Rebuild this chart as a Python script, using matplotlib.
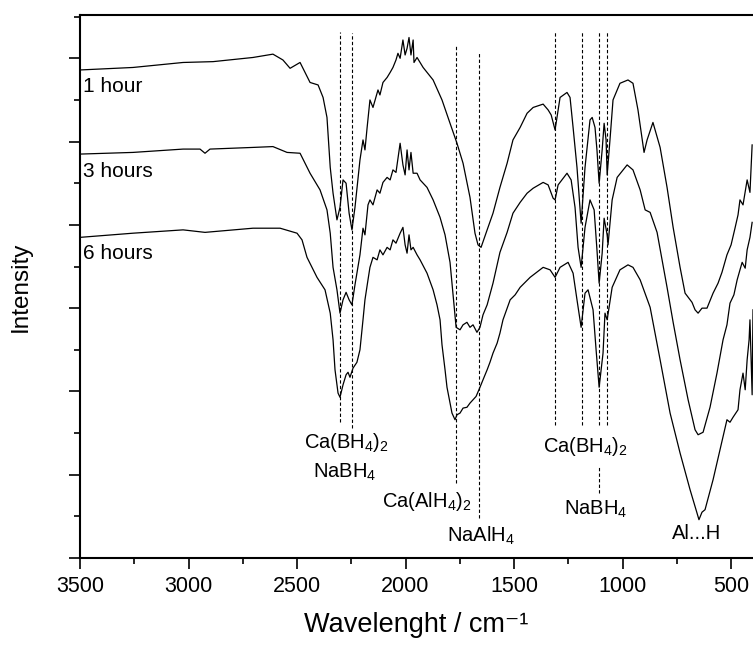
import numpy as np
import matplotlib
matplotlib.use('Agg')
import matplotlib.pyplot as plt
from matplotlib.ticker import MultipleLocator

plt.rcParams['font.family'] = ['Liberation Sans', 'DejaVu Sans']
plt.rcParams['mathtext.fontset'] = 'custom'
plt.rcParams['mathtext.rm'] = 'Liberation Sans'

# FTIR spektra (bølgetall, intensitet med offset) lest av figuren
spectrum_1h = np.array([
    [3500, 5.86], [3256, 5.89], [3025, 5.95], [2887, 5.96], [2703, 6.01], [2611, 6.05],
    [2565, 5.98], [2532, 5.88], [2486, 5.95], [2440, 5.71], [2403, 5.68], [2380, 5.53],
    [2362, 5.29], [2347, 4.69], [2334, 4.38], [2316, 4.06], [2302, 4.21], [2288, 4.54],
    [2274, 4.50], [2260, 4.14], [2247, 3.94], [2233, 4.21], [2210, 4.78], [2196, 5.02],
    [2187, 4.90], [2177, 5.17], [2164, 5.50], [2150, 5.41], [2127, 5.62], [2118, 5.56],
    [2104, 5.71], [2085, 5.77], [2071, 5.83], [2058, 5.89], [2044, 5.98], [2035, 6.06],
    [2025, 6.00], [2012, 6.22], [2002, 6.04], [1993, 6.12], [1984, 6.25], [1975, 6.04],
    [1965, 6.22], [1961, 5.95], [1947, 6.01], [1919, 5.89], [1873, 5.74], [1832, 5.50],
    [1795, 5.22], [1763, 4.98], [1735, 4.74], [1703, 4.33], [1680, 3.90], [1666, 3.76],
    [1652, 3.73], [1624, 3.94], [1597, 4.14], [1565, 4.45], [1532, 4.74], [1505, 5.02],
    [1472, 5.17], [1440, 5.34], [1412, 5.41], [1366, 5.45], [1343, 5.38], [1329, 5.32],
    [1311, 5.14], [1288, 5.53], [1256, 5.59], [1242, 5.53], [1228, 5.17], [1210, 4.69],
    [1191, 4.02], [1173, 4.69], [1150, 5.26], [1140, 5.29], [1127, 5.17], [1118, 4.90],
    [1108, 4.50], [1094, 4.90], [1085, 5.22], [1076, 5.02], [1071, 4.60], [1058, 5.02],
    [1044, 5.50], [1012, 5.70], [975, 5.74], [952, 5.70], [929, 5.38], [901, 4.87],
    [887, 5.02], [860, 5.23], [827, 4.93], [795, 4.45], [767, 3.97], [735, 3.49],
    [712, 3.18], [680, 3.07], [666, 2.98], [652, 2.94], [634, 3.00], [611, 3.00],
    [583, 3.18], [560, 3.30], [542, 3.43], [519, 3.64], [500, 3.76], [482, 3.96],
    [468, 4.12], [459, 4.30], [445, 4.24], [426, 4.54], [413, 4.39], [403, 4.96],
])

spectrum_3h = np.array([
    [3500, 4.85], [3256, 4.87], [3025, 4.91], [2947, 4.91], [2924, 4.86], [2901, 4.91],
    [2703, 4.93], [2611, 4.94], [2546, 4.87], [2486, 4.86], [2440, 4.62], [2394, 4.42],
    [2362, 4.18], [2347, 3.90], [2334, 3.49], [2316, 3.22], [2302, 2.94], [2288, 3.10],
    [2274, 3.19], [2260, 3.10], [2247, 3.04], [2233, 3.28], [2210, 3.64], [2196, 3.96],
    [2187, 3.88], [2173, 4.24], [2164, 4.30], [2150, 4.24], [2131, 4.42], [2118, 4.38],
    [2104, 4.51], [2085, 4.57], [2071, 4.54], [2058, 4.66], [2044, 4.63], [2025, 4.98],
    [2012, 4.72], [2002, 4.60], [1993, 4.90], [1984, 4.66], [1975, 4.87], [1965, 4.62],
    [1947, 4.62], [1933, 4.54], [1901, 4.45], [1873, 4.30], [1841, 4.09], [1818, 3.88],
    [1795, 3.55], [1781, 3.16], [1767, 2.77], [1749, 2.74], [1735, 2.80], [1717, 2.83],
    [1703, 2.77], [1689, 2.80], [1671, 2.71], [1657, 2.77], [1643, 2.92], [1624, 3.04],
    [1597, 3.30], [1565, 3.67], [1532, 3.91], [1505, 4.14], [1472, 4.27], [1440, 4.38],
    [1412, 4.44], [1366, 4.51], [1343, 4.48], [1320, 4.32], [1311, 4.30], [1297, 4.48],
    [1256, 4.62], [1237, 4.54], [1219, 4.21], [1205, 3.73], [1191, 3.49], [1173, 3.97],
    [1150, 4.30], [1131, 4.18], [1118, 3.70], [1108, 3.30], [1094, 3.66], [1085, 4.08],
    [1071, 3.88], [1067, 3.76], [1048, 4.30], [1025, 4.57], [979, 4.72], [952, 4.66],
    [919, 4.42], [896, 4.18], [873, 4.15], [841, 3.91], [795, 3.25], [767, 2.83],
    [735, 2.38], [698, 1.90], [666, 1.54], [652, 1.48], [629, 1.51], [597, 1.81],
    [565, 2.22], [537, 2.62], [519, 2.80], [505, 3.06], [487, 3.16], [472, 3.34],
    [459, 3.46], [449, 3.55], [435, 3.48], [426, 3.70], [413, 3.85], [403, 4.03],
])

spectrum_6h = np.array([
    [3500, 3.85], [3256, 3.90], [3025, 3.94], [2924, 3.91], [2703, 3.96], [2578, 3.96],
    [2500, 3.90], [2477, 3.82], [2454, 3.61], [2408, 3.37], [2371, 3.22], [2347, 2.94],
    [2334, 2.62], [2325, 2.26], [2311, 1.98], [2302, 1.93], [2288, 2.08], [2274, 2.20],
    [2265, 2.23], [2256, 2.17], [2242, 2.28], [2224, 2.35], [2210, 2.50], [2196, 2.86],
    [2187, 3.10], [2173, 3.34], [2164, 3.49], [2150, 3.61], [2131, 3.58], [2118, 3.70],
    [2104, 3.64], [2085, 3.73], [2071, 3.70], [2058, 3.82], [2044, 3.78], [2025, 3.90],
    [2012, 3.97], [2002, 3.76], [1993, 3.66], [1984, 3.88], [1975, 3.70], [1965, 3.73],
    [1947, 3.64], [1933, 3.58], [1901, 3.42], [1873, 3.22], [1855, 3.04], [1841, 2.86],
    [1832, 2.56], [1818, 2.26], [1809, 2.05], [1786, 1.74], [1772, 1.66], [1763, 1.72],
    [1749, 1.74], [1735, 1.80], [1717, 1.81], [1703, 1.86], [1689, 1.90], [1675, 1.94],
    [1657, 2.05], [1643, 2.14], [1624, 2.26], [1611, 2.35], [1597, 2.46], [1578, 2.58],
    [1565, 2.70], [1551, 2.86], [1518, 3.10], [1495, 3.16], [1472, 3.25], [1426, 3.37],
    [1366, 3.49], [1334, 3.46], [1311, 3.37], [1288, 3.49], [1251, 3.55], [1228, 3.42],
    [1210, 3.10], [1191, 2.77], [1173, 3.18], [1159, 3.22], [1136, 2.98], [1122, 2.50],
    [1108, 2.05], [1090, 2.46], [1081, 2.94], [1071, 2.86], [1048, 3.25], [1012, 3.46],
    [975, 3.52], [952, 3.49], [919, 3.34], [873, 3.01], [827, 2.38], [781, 1.74],
    [735, 1.26], [689, 0.82], [657, 0.54], [648, 0.46], [634, 0.55], [620, 0.58],
    [583, 0.94], [551, 1.30], [519, 1.66], [505, 1.63], [491, 1.69], [468, 1.78],
    [459, 2.02], [445, 2.22], [435, 2.02], [426, 2.38], [417, 2.62], [413, 2.86],
    [403, 1.96], [399, 2.98],
])

series_labels = ['1 hour', '3 hours', '6 hours']
series_label_y = [5.66, 4.64, 3.66]

# Stiplede linjer for båndene
marker_wn = [2302, 2248, 1769, 1661, 1311, 1188, 1108, 1070, 1108]
marker_top = [6.31, 6.30, 6.16, 6.06, 6.31, 6.31, 6.31, 6.31, 1.09]
marker_bottom = [1.63, 1.56, 0.90, 0.48, 1.60, 1.60, 1.60, 1.60, 0.78]

# Etiketter for båndene (tekst, bølgetall, høyde)
band_labels = [r'$\mathregular{Ca(BH_4)_2}$', r'$\mathregular{NaBH_4}$',
               r'$\mathregular{Ca(AlH_4)_2}$', r'$\mathregular{NaAlH_4}$',
               r'$\mathregular{Ca(BH_4)_2}$', r'$\mathregular{NaBH_4}$', 'Al...H']
band_label_wn = [2274, 2279, 1901, 1652, 1173, 1122, 657]
band_label_y = [1.32, 0.97, 0.61, 0.19, 1.27, 0.52, 0.23]

fig = plt.figure(figsize=(7.53, 6.45), dpi=100)
ax = fig.add_axes([80 / 753, 87 / 645, 673 / 753, 543 / 645])

for spec in (spectrum_1h, spectrum_3h, spectrum_6h):
    ax.plot(spec[:, 0], spec[:, 1], color='black', linewidth=0.9)

ax.vlines(marker_wn, marker_bottom, marker_top, colors='black',
          linestyles=(0, (3, 2)), linewidth=0.8)

for text, y in zip(series_labels, series_label_y):
    ax.text(3485, y, text, fontsize=15, ha='left', va='center')

for text, x, y in zip(band_labels, band_label_wn, band_label_y):
    ax.text(x, y, text, fontsize=14.5, ha='center', va='baseline')

ax.set_xlim(3500, 399)
ax.set_ylim(0, 6.52)
ax.xaxis.set_major_locator(MultipleLocator(500))
ax.xaxis.set_minor_locator(MultipleLocator(250))
ax.yaxis.set_major_locator(MultipleLocator(1))
ax.yaxis.set_minor_locator(MultipleLocator(0.5))
ax.set_yticklabels([])
ax.tick_params(which='major', direction='out', length=8, width=1.2, labelsize=15.5, pad=5)
ax.tick_params(which='minor', direction='out', length=4.5, width=1.2)
ax.tick_params(top=False, right=False)

ax.spines['right'].set_visible(False)
for side in ('left', 'bottom', 'top'):
    ax.spines[side].set_linewidth(1.5)

ax.set_xlabel('Wavelenght / cm\u207b\u00b9', fontsize=19.5)
ax.set_ylabel('Intensity', fontsize=17.5)
ax.xaxis.set_label_coords(0.5, -0.1)
ax.yaxis.set_label_coords(-0.072, 0.5)

plt.savefig('out.png', dpi=100)
